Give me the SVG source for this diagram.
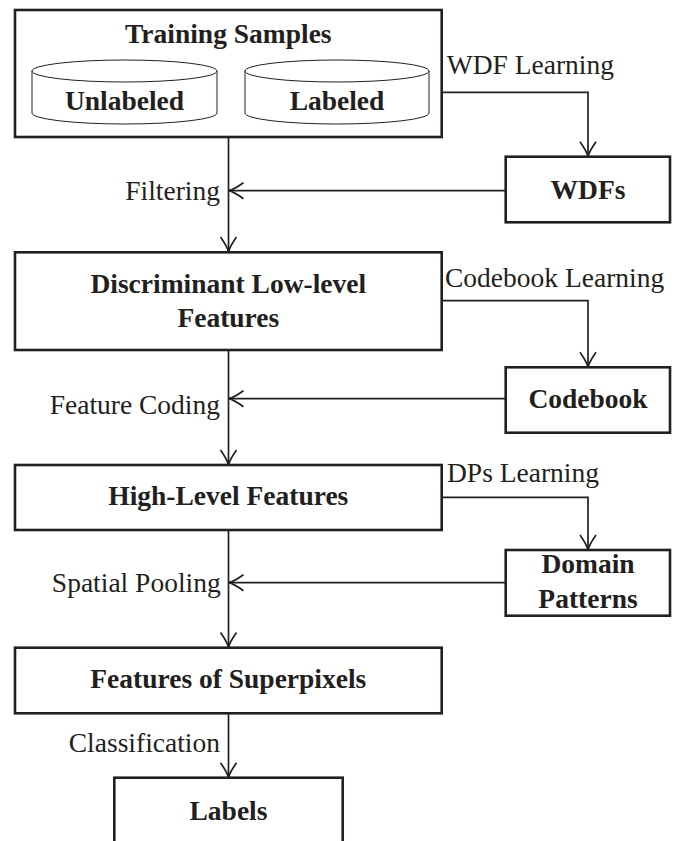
<svg xmlns="http://www.w3.org/2000/svg" width="678" height="841" viewBox="0 0 678 841">
<style>
.box{fill:#fff;stroke:#231f20;stroke-width:2.6}
.cyl{fill:#fff;stroke:#231f20;stroke-width:1}
.con{fill:none;stroke:#231f20;stroke-width:1.7}
.b{font-family:"Liberation Serif","Times New Roman",serif;font-weight:bold;font-size:27.5px;fill:#231f20;text-anchor:middle}
.r{font-family:"Liberation Serif","Times New Roman",serif;font-size:27.5px;fill:#231f20}
.e{text-anchor:end}
</style>
<defs>
<marker id="arr" markerUnits="userSpaceOnUse" viewBox="-17 -10 19 20" refX="0" refY="0" markerWidth="19" markerHeight="20" orient="auto" overflow="visible">
<path d="M -15,-8 Q -5,-1 0,0 M -15,8 Q -5,1 0,0" fill="none" stroke="#231f20" stroke-width="1.7"/>
</marker>
</defs>
<rect width="678" height="841" fill="#fff"/>
<g id="connectors">
<path class="con" d="M 228.5,137 V 252" marker-end="url(#arr)"/>
<path class="con" d="M 429,92.3 H 588 V 156.7" marker-end="url(#arr)"/>
<path class="con" d="M 505.7,190.7 H 228.5" marker-end="url(#arr)"/>
<path class="con" d="M 228.5,350 V 465" marker-end="url(#arr)"/>
<path class="con" d="M 441.7,300.7 H 588 V 367.3" marker-end="url(#arr)"/>
<path class="con" d="M 505.7,398.7 H 228.5" marker-end="url(#arr)"/>
<path class="con" d="M 228.5,530 V 647.5" marker-end="url(#arr)"/>
<path class="con" d="M 441.7,497.3 H 588 V 550" marker-end="url(#arr)"/>
<path class="con" d="M 505.7,582.7 H 228.5" marker-end="url(#arr)"/>
<path class="con" d="M 228.5,713.3 V 777.7" marker-end="url(#arr)"/>
</g>
<g id="training-samples">
<rect class="box" x="15" y="10" width="426.7" height="127"/>
<text class="b" x="228.3" y="43">Training Samples</text>
<g id="unlabeled">
<path class="cyl" d="M 32,71 V 113 A 92.5 11 0 0 0 217,113 V 71"/>
<ellipse class="cyl" cx="124.5" cy="71" rx="92.5" ry="11"/>
<text class="b" x="124.5" y="110">Unlabeled</text>
</g>
<g id="labeled">
<path class="cyl" d="M 245,71 V 113 A 92 11 0 0 0 429,113 V 71"/>
<ellipse class="cyl" cx="337" cy="71" rx="92" ry="11"/>
<text class="b" x="337" y="110">Labeled</text>
</g>
</g>
<g id="wdfs">
<rect class="box" x="505.7" y="156.7" width="164.3" height="65.6"/>
<text class="b" x="588" y="199.3">WDFs</text>
</g>
<g id="discriminant">
<rect class="box" x="15" y="252.3" width="426.7" height="97.7"/>
<text class="b" x="228.3" y="292.7">Discriminant Low-level</text>
<text class="b" x="228.3" y="327.3">Features</text>
</g>
<g id="codebook">
<rect class="box" x="505.7" y="367.3" width="164.3" height="65.4"/>
<text class="b" x="588" y="407.7">Codebook</text>
</g>
<g id="high-level">
<rect class="box" x="15" y="465" width="426.7" height="65"/>
<text class="b" x="228.3" y="505">High-Level Features</text>
</g>
<g id="domain-patterns">
<rect class="box" x="505.7" y="550" width="164.3" height="65.7"/>
<text class="b" x="588" y="573.3">Domain</text>
<text class="b" x="588" y="607.7">Patterns</text>
</g>
<g id="superpixels">
<rect class="box" x="15" y="647.7" width="426.7" height="65.6"/>
<text class="b" x="228.3" y="688.3">Features of Superpixels</text>
</g>
<g id="labels">
<rect class="box" x="114.3" y="777.7" width="228.4" height="80"/>
<text class="b" x="228.5" y="820">Labels</text>
</g>
<g id="edge-labels">
<text class="r" x="446.7" y="74">WDF Learning</text>
<text class="r e" x="220" y="200">Filtering</text>
<text class="r" x="445" y="287">Codebook Learning</text>
<text class="r e" x="220" y="414.3">Feature Coding</text>
<text class="r" x="447" y="481.7">DPs Learning</text>
<text class="r e" x="220.7" y="591.7">Spatial Pooling</text>
<text class="r e" x="220" y="751.7">Classification</text>
</g>
</svg>
